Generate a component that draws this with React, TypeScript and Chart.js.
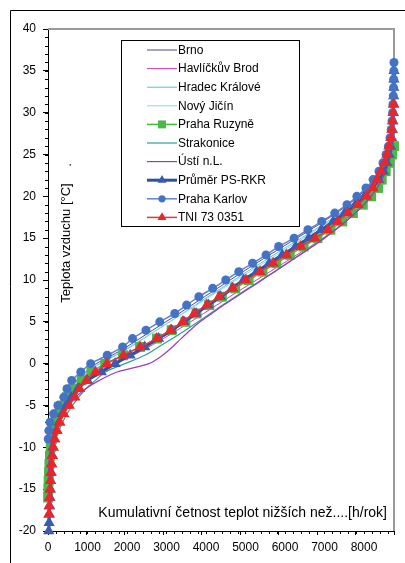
import React, { useEffect, useRef } from "react";
import { Chart, registerables } from "chart.js";

Chart.register(...registerables);

// ---------- DATA (hours per year with temperature below T, T in integer °C) ----------
const HOURS_MAX = 8760;
const X_TICK_LABELS = [0, 1000, 2000, 3000, 4000, 5000, 6000, 7000, 8000];
const X_MINOR_STEP = 200;
const Y_TICK_LABELS = [-20, -15, -10, -5, 0, 5, 10, 15, 20, 25, 30, 35, 40];
const Y_MINOR_STEP = 1;

const brnoStart = -15;
const brnoHours = [0, 5, 10, 18, 28, 40, 60, 90, 130, 190, 280, 400, 540, 720, 950, 1220, 1620, 1990, 2320, 2650, 2980, 3320, 3640, 3960, 4290, 4610, 4940, 5270, 5610, 5950, 6300, 6640, 6980, 7300, 7600, 7860, 8080, 8260, 8400, 8500, 8580, 8640, 8680, 8710, 8730, 8743, 8751, 8756, 8759, 8760];

const havlStart = -19;
const havlHours = [0, 4, 8, 13, 20, 28, 40, 55, 75, 105, 145, 200, 270, 360, 470, 610, 790, 1010, 1300, 1700, 2150, 2550, 2920, 3270, 3610, 3940, 4270, 4600, 4940, 5280, 5620, 5960, 6300, 6640, 6960, 7260, 7540, 7790, 8010, 8200, 8360, 8480, 8570, 8640, 8690, 8720, 8740, 8752, 8758, 8760];

const hradecStart = -17;
const hradecHours = [0, 4, 8, 14, 22, 32, 45, 62, 85, 120, 170, 240, 330, 450, 600, 790, 1030, 1310, 1720, 2090, 2420, 2750, 3080, 3410, 3730, 4050, 4380, 4710, 5040, 5380, 5720, 6060, 6410, 6750, 7080, 7390, 7680, 7930, 8140, 8310, 8440, 8540, 8610, 8660, 8700, 8725, 8740, 8750, 8755, 8758, 8760];

const novyStart = -16;
const novyHours = [0, 5, 10, 17, 26, 38, 55, 80, 115, 165, 235, 320, 430, 570, 750, 990, 1280, 1690, 2060, 2400, 2740, 3080, 3420, 3760, 4090, 4430, 4770, 5110, 5450, 5790, 6130, 6470, 6800, 7120, 7420, 7700, 7950, 8160, 8330, 8460, 8550, 8620, 8670, 8705, 8728, 8742, 8751, 8756, 8759, 8760];

const ruzyneStart = -16;
const ruzyneHours = [3, 8, 15, 25, 35, 50, 70, 100, 140, 190, 260, 350, 480, 640, 850, 1100, 1450, 1900, 2330, 2760, 3130, 3480, 3760, 4080, 4400, 4740, 5080, 5430, 5780, 6120, 6470, 6820, 7150, 7450, 7720, 7970, 8180, 8360, 8450, 8550, 8640, 8710, 8760];

const strakStart = -18;
const strakHours = [3, 8, 15, 25, 35, 50, 70, 100, 140, 200, 280, 370, 480, 620, 780, 960, 1200, 1450, 1950, 2450, 2800, 3150, 3480, 3800, 4110, 4420, 4740, 5070, 5400, 5730, 6050, 6370, 6680, 6980, 7270, 7530, 7770, 7990, 8170, 8330, 8450, 8550, 8620, 8680, 8720, 8745, 8760];

const ustiStart = -14;
const ustiHours = [5, 10, 20, 35, 60, 100, 160, 240, 350, 500, 700, 950, 1300, 1750, 2550, 2900, 3150, 3370, 3600, 3850, 4150, 4450, 4770, 5100, 5420, 5740, 6060, 6375, 6700, 7000, 7280, 7540, 7780, 8000, 8180, 8330, 8450, 8550, 8620, 8680, 8720, 8745, 8760];

const prumerStart = -20;
const prumerHours = [20, 28, 35, 42, 50, 58, 66, 75, 85, 100, 125, 160, 210, 280, 360, 460, 590, 760, 1000, 1350, 1700, 2080, 2450, 2800, 3130, 3440, 3750, 4060, 4370, 4660, 4950, 5280, 5600, 5930, 6270, 6600, 6920, 7220, 7510, 7780, 8010, 8210, 8370, 8490, 8575, 8635, 8675, 8700, 8720, 8732, 8740, 8746, 8751, 8755, 8758, 8760];

const karlovStart = -9;
const karlovHours = [5, 20, 50, 140, 250, 400, 480, 600, 830, 1080, 1500, 1890, 2140, 2480, 2830, 3210, 3510, 3820, 4170, 4500, 4830, 5180, 5520, 5840, 6230, 6580, 6930, 7260, 7570, 7820, 8050, 8230, 8380, 8480, 8560, 8620, 8660, 8690, 8710, 8725, 8735, 8742, 8748, 8752, 8756, 8760];

const tniStart = -18;
const tniHours = [22, 28, 36, 50, 65, 80, 95, 115, 135, 170, 230, 300, 400, 540, 680, 800, 970, 1200, 1490, 1910, 2330, 2750, 3100, 3410, 3700, 4020, 4330, 4680, 5010, 5370, 5700, 6040, 6400, 6760, 7085, 7340, 7590, 7850, 8070, 8230, 8330, 8425, 8525, 8580, 8630, 8680, 8705, 8725, 8740, 8752];

// ---------- STYLE TABLE ----------
type Series = {
  label: string;
  start: number;
  hours: number[];
  color: string;
  width: number;
  style: false | "triangle" | "circle" | "rect";
  radius: number;
  pointColor: string;
};

const SERIES: Series[] = [
  { label: "Brno", start: brnoStart, hours: brnoHours, color: "#4B4B8F", width: 1, style: false, radius: 0, pointColor: "#4B4B8F" },
  { label: "Havlíčkův Brod", start: havlStart, hours: havlHours, color: "#CC3FA8", width: 1, style: false, radius: 0, pointColor: "#CC3FA8" },
  { label: "Hradec Králové", start: hradecStart, hours: hradecHours, color: "#4FC6D6", width: 1, style: false, radius: 0, pointColor: "#4FC6D6" },
  { label: "Nový Jičín", start: novyStart, hours: novyHours, color: "#8ED6EC", width: 1, style: false, radius: 0, pointColor: "#8ED6EC" },
  { label: "Praha Ruzyně", start: ruzyneStart, hours: ruzyneHours, color: "#4CB848", width: 1.5, style: "rect", radius: 7, pointColor: "#4CB848" },
  { label: "Strakonice", start: strakStart, hours: strakHours, color: "#2E9E96", width: 1.2, style: false, radius: 0, pointColor: "#2E9E96" },
  { label: "Ústí n.L.", start: ustiStart, hours: ustiHours, color: "#9B3DB5", width: 1.2, style: false, radius: 0, pointColor: "#9B3DB5" },
  { label: "Průměr PS-RKR", start: prumerStart, hours: prumerHours, color: "#2F4FA0", width: 3, style: "triangle", radius: 6.5, pointColor: "#3A5BB0" },
  { label: "Praha Karlov", start: karlovStart, hours: karlovHours, color: "#5F83CC", width: 1.5, style: "circle", radius: 4.5, pointColor: "#4472C4" },
  { label: "TNI 73 0351", start: tniStart, hours: tniHours, color: "#EE3535", width: 1.5, style: "triangle", radius: 6.5, pointColor: "#E8262B" },
];

const FONT = "'Liberation Sans', Arial, sans-serif";

function drawMarker(ctx: CanvasRenderingContext2D, style: string, x: number, y: number, r: number) {
  ctx.beginPath();
  if (style === "circle") {
    ctx.arc(x, y, r, 0, Math.PI * 2);
  } else if (style === "rect") {
    const s = Math.SQRT1_2 * r;
    ctx.rect(x - s, y - s, 2 * s, 2 * s);
  } else if (style === "triangle") {
    ctx.moveTo(x, y - r);
    ctx.lineTo(x + 0.866 * r, y + 0.5 * r);
    ctx.lineTo(x - 0.866 * r, y + 0.5 * r);
    ctx.closePath();
  }
  ctx.fill();
}

const decorPlugin = {
  id: "decor",
  beforeDraw(chart: any) {
    const ctx = chart.ctx as CanvasRenderingContext2D;
    ctx.save();
    ctx.fillStyle = "#ffffff";
    ctx.fillRect(0, 0, chart.width, chart.height);
    ctx.strokeStyle = "#000000";
    ctx.lineWidth = 1;
    ctx.beginPath();
    ctx.moveTo(10.5, chart.height);
    ctx.lineTo(10.5, 10.5);
    ctx.lineTo(chart.width, 10.5);
    ctx.stroke();
    ctx.restore();
  },
  beforeDatasetsDraw(chart: any) {
    const ctx = chart.ctx as CanvasRenderingContext2D;
    const a = chart.chartArea;
    const xs = chart.scales.x;
    const ys = chart.scales.y;
    ctx.save();
    ctx.strokeStyle = "#9a9a9a";
    ctx.lineWidth = 2;
    ctx.beginPath();
    ctx.moveTo(a.left, a.top);
    ctx.lineTo(a.right, a.top);
    ctx.lineTo(a.right, a.bottom);
    ctx.stroke();
    // minor ticks
    ctx.strokeStyle = "#000";
    ctx.lineWidth = 1;
    ctx.beginPath();
    for (let v = 0; v <= HOURS_MAX; v += X_MINOR_STEP) {
      const px = Math.round(xs.getPixelForValue(v)) + 0.5;
      ctx.moveTo(px, a.bottom);
      ctx.lineTo(px, a.bottom + 3);
    }
    for (let v = Y_TICK_LABELS[0]; v <= Y_TICK_LABELS[Y_TICK_LABELS.length - 1]; v += Y_MINOR_STEP) {
      const py = Math.round(ys.getPixelForValue(v)) + 0.5;
      ctx.moveTo(a.left, py);
      ctx.lineTo(a.left - 3, py);
    }
    ctx.stroke();
    // x tick labels (major)
    ctx.fillStyle = "#000";
    ctx.font = `12px ${FONT}`;
    ctx.textAlign = "center";
    ctx.textBaseline = "middle";
    X_TICK_LABELS.forEach((v) => {
      ctx.fillText(String(v), xs.getPixelForValue(v), a.bottom + 17);
    });
    ctx.restore();
  },
  afterDraw(chart: any) {
    const ctx = chart.ctx as CanvasRenderingContext2D;
    const a = chart.chartArea;
    ctx.save();
    ctx.fillStyle = "#000";
    // y title (inside plot)
    ctx.save();
    ctx.translate(a.left + 18, 243);
    ctx.rotate(-Math.PI / 2);
    ctx.font = `13px ${FONT}`;
    ctx.textAlign = "center";
    ctx.textBaseline = "middle";
    ctx.fillText("Teplota vzduchu [°C]", 0, 0);
    ctx.fillText(".", 78, 1);
    ctx.restore();
    // x title (inside plot)
    ctx.font = `14px ${FONT}`;
    ctx.textAlign = "right";
    ctx.textBaseline = "middle";
    ctx.fillText("Kumulativní četnost teplot nižších než....[h/rok]", a.right - 7, a.bottom - 18);

    // legend box
    const lx = a.left + 73;
    const ly = a.top + 11;
    const lw = 178;
    const lh = 186;
    ctx.fillStyle = "#fff";
    ctx.fillRect(lx, ly, lw, lh);
    ctx.strokeStyle = "#000";
    ctx.lineWidth = 1;
    ctx.strokeRect(lx + 0.5, ly + 0.5, lw, lh);
    ctx.font = `12px ${FONT}`;
    ctx.textAlign = "left";
    ctx.textBaseline = "middle";
    chart.data.datasets.forEach((ds: any, i: number) => {
      const cy = ly + 10 + i * 18.6;
      ctx.strokeStyle = ds.borderColor;
      ctx.lineWidth = ds.borderWidth;
      ctx.beginPath();
      ctx.moveTo(lx + 26, cy);
      ctx.lineTo(lx + 56, cy);
      ctx.stroke();
      if (ds.pointStyle && ds.pointRadius > 0) {
        ctx.fillStyle = ds.pointBackgroundColor;
        drawMarker(ctx, ds.pointStyle, lx + 41, cy, ds.pointRadius * 0.8);
      }
      ctx.fillStyle = "#000";
      ctx.fillText(ds.label, lx + 57, cy + 0.5);
    });
    ctx.restore();
  },
};

export default function App() {
  const ref = useRef<HTMLCanvasElement | null>(null);

  useEffect(() => {
    if (!ref.current) return;
    const datasets = SERIES.map((s, i) => ({
      label: s.label,
      data: s.hours.map((h, k) => ({ x: h, y: s.start + k })),
      showLine: true,
      borderColor: s.color,
      borderWidth: s.width,
      backgroundColor: s.pointColor,
      pointStyle: s.style === false ? "circle" : s.style,
      pointRadius: s.radius,
      pointHoverRadius: s.radius,
      pointBackgroundColor: s.pointColor,
      pointBorderColor: s.pointColor,
      pointBorderWidth: 0,
      tension: 0.3,
      clip: false as any,
      order: SERIES.length - i,
    }));

    const chart = new Chart(ref.current, {
      type: "scatter",
      data: { datasets },
      plugins: [decorPlugin],
      options: {
        responsive: false,
        animation: false,
        devicePixelRatio: 1,
        layout: { padding: { top: 29, right: 11, left: 0, bottom: 0 } },
        plugins: { legend: { display: false }, tooltip: { enabled: false } },
        scales: {
          x: {
            type: "linear",
            min: 0,
            max: HOURS_MAX,
            afterFit: (scale: any) => { scale.height = 32; },
            grid: { drawOnChartArea: false, drawTicks: true, tickLength: 4, color: "#000" },
            border: { display: true, color: "#000", width: 1 },
            ticks: {
              display: false,
              stepSize: 1000,
              includeBounds: false,
              autoSkip: false,
              maxRotation: 0,
            },
          },
          y: {
            type: "linear",
            min: Y_TICK_LABELS[0],
            max: Y_TICK_LABELS[Y_TICK_LABELS.length - 1],
            afterFit: (scale: any) => { scale.width = 48; },
            grid: { drawOnChartArea: false, drawTicks: true, tickLength: 5, color: "#000" },
            border: { display: true, color: "#000", width: 1 },
            ticks: {
              stepSize: 5,
              autoSkip: false,
              padding: 7,
              color: "#000",
              font: { family: FONT, size: 12 },
              callback: (v: any) => (Y_TICK_LABELS.includes(Number(v)) ? String(v) : ""),
            },
          },
        },
      },
    });
    return () => chart.destroy();
  }, []);

  return (
    <div style={{ position: "fixed", left: 0, top: 0, width: 405, height: 563, background: "#fff" }}>
      <canvas ref={ref} width={405} height={563} style={{ display: "block" }} />
    </div>
  );
}
